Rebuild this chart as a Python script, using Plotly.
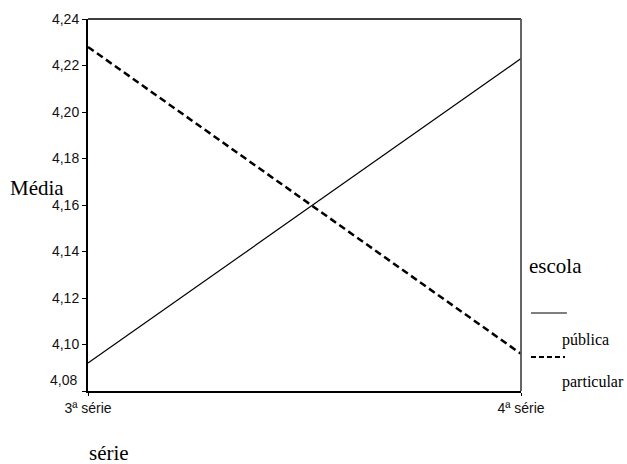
import plotly.graph_objects as go

categories = ["3ª série", "4ª série"]
publica = [4.092, 4.223]
particular = [4.228, 4.096]
y_tickvals = [4.08, 4.10, 4.12, 4.14, 4.16, 4.18, 4.20, 4.22, 4.24]
y_ticklabels = ["4,08", "4,10", "4,12", "4,14", "4,16", "4,18", "4,20", "4,22", "4,24"]
series_names = ["pública", "particular"]
legend_title = "escola"
y_title = "Média"
x_title = "série"

xpos = list(range(len(categories)))

fig = go.Figure()
fig.add_trace(go.Scatter(x=xpos, y=publica, mode="lines", name=series_names[0],
                         line=dict(color="black", width=1.2), showlegend=False))
fig.add_trace(go.Scatter(x=xpos, y=particular, mode="lines", name=series_names[1],
                         line=dict(color="black", width=2.5, dash="7px,4px"), showlegend=False))

serif = "Liberation Serif, Times New Roman, serif"
sans = "Liberation Sans, Arial, sans-serif"

# first y tick label drawn slightly raised, as in the reference
shown_labels = [""] + y_ticklabels[1:]

fig.update_layout(
    width=627, height=464,
    margin=dict(l=88, r=106, t=19, b=73),
    plot_bgcolor="white", paper_bgcolor="white",
    xaxis=dict(range=[0, 1], tickvals=xpos, ticktext=categories,
               showgrid=False, zeroline=False, showline=True, linecolor="black", linewidth=2,
               ticks="outside", ticklen=3, tickcolor="black",
               tickfont=dict(family=sans, size=14, color="#111")),
    yaxis=dict(range=[4.08, 4.24], tickvals=y_tickvals, ticktext=shown_labels,
               showgrid=False, zeroline=False, showline=True, linecolor="black", linewidth=2,
               ticks="outside", ticklen=4, tickcolor="black",
               tickfont=dict(family=sans, size=14, color="#111")),
    shapes=[
        dict(type="line", xref="paper", yref="paper", x0=0, x1=1, y0=1, y1=1,
             line=dict(color="black", width=1.5)),
        dict(type="line", xref="paper", yref="paper", x0=1, x1=1, y0=0, y1=1,
             line=dict(color="#555", width=1.8)),
        dict(type="line", xref="paper", yref="paper", x0=1.023, x1=1.106, y0=0.2097, y1=0.2097,
             line=dict(color="#555", width=1.5)),
        dict(type="line", xref="paper", yref="paper", x0=1.023, x1=1.1016, y0=0.0914, y1=0.0914,
             line=dict(color="black", width=2, dash="5px,3px")),
    ],
    annotations=[
        dict(text=y_ticklabels[0], xref="paper", yref="y", x=0, y=y_tickvals[0], xanchor="right",
             yanchor="middle", xshift=-9, yshift=11, showarrow=False,
             font=dict(family=sans, size=14, color="#111")),
        dict(text=y_title, xref="paper", yref="paper", x=-0.0508, y=0.545, xanchor="right",
             yanchor="middle", showarrow=False, font=dict(family=serif, size=21, color="black")),
        dict(text=x_title, xref="paper", yref="paper", x=-0.0023, y=-0.168, xanchor="left",
             yanchor="middle", showarrow=False, font=dict(family=serif, size=21, color="black")),
        dict(text=legend_title, xref="paper", yref="paper", x=1.0139, y=0.336, xanchor="left",
             yanchor="middle", showarrow=False, font=dict(family=serif, size=21, color="black")),
        dict(text=series_names[0], xref="paper", yref="paper", x=1.090, y=0.137, xanchor="left",
             yanchor="middle", showarrow=False, font=dict(family=serif, size=16, color="black")),
        dict(text=series_names[1], xref="paper", yref="paper", x=1.090, y=0.0242, xanchor="left",
             yanchor="middle", showarrow=False, font=dict(family=serif, size=16, color="black")),
    ],
)

fig.write_html("out.html", config={"displayModeBar": False},
               post_script="document.body.style.margin='0';document.body.style.overflow='hidden';")
